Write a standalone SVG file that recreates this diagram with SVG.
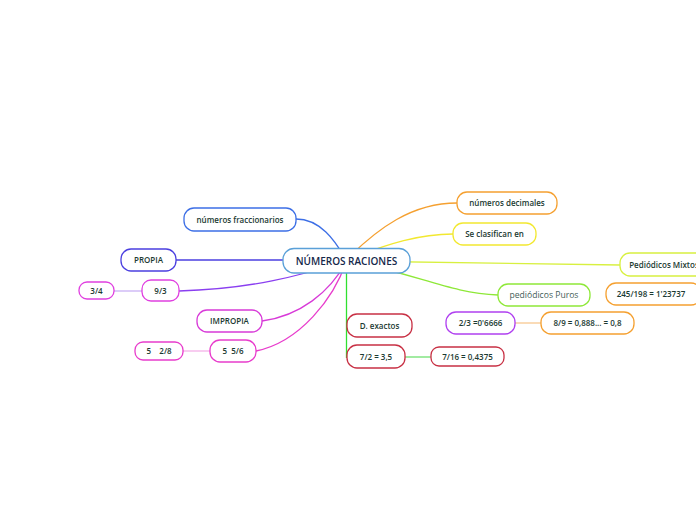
<svg xmlns="http://www.w3.org/2000/svg" width="696" height="520" viewBox="0 0 696 520">
<style>
.n{fill:#ffffff;stroke-width:1.3}
.t{font-family:"Open Sans","Noto Sans",sans-serif;font-size:8px;fill:#1b3a32;text-anchor:middle;font-weight:600}
.c{fill:none;stroke-width:1.3}
</style>
<rect width="696" height="520" fill="#ffffff"/>
<g id="connectors">
<path class="c" stroke="#3d6fe6" d="M296,219 C320,219 335,240 346,260"/>
<path class="c" stroke="#4b3fe0" d="M176,260 L346,260"/>
<path class="c" stroke="#8a3ff0" d="M179,291 C250,289 300,276 346,261"/>
<path class="c" stroke="#c9b0f5" d="M114,291 L142,291"/>
<path class="c" stroke="#d83ad8" d="M262,321 C300,316 330,292 346,262"/>
<path class="c" stroke="#e83ccc" d="M256,351 C300,342 334,298 346,262"/>
<path class="c" stroke="#f5b0e8" d="M183,351 L210,351"/>
<path class="c" stroke="#30e030" d="M346.5,262 L346.5,358"/>
<path class="c" stroke="#70e070" d="M405,357 L431,357"/>
<path class="c" stroke="#f5a030" d="M457,203 C412,203 378,228 346,260"/>
<path class="c" stroke="#f2e830" d="M453,234 C420,234 390,243 346,260"/>
<path class="c" stroke="#d8f040" d="M620,265 L346,261"/>
<path class="c" stroke="#8ee838" d="M498,295 C450,293 420,275 346,260"/>
<path class="c" stroke="#f8c890" d="M515,323 L541,323"/>
</g>
<g id="central"><rect class="n" x="283" y="248.5" width="127" height="24.5" rx="11" stroke="#5aa0d8" fill="#fbfdff"/><text class="t" x="346.5" y="264.5" style="font-size:10px;fill:#14284a">NÚMEROS RACIONES</text></g>
<g id="fraccionarios"><rect class="n" x="184" y="208" width="112" height="23" rx="10" stroke="#3d6fe6"/><text class="t" x="240" y="222.5">números fraccionarios</text></g>
<g id="propia"><rect class="n" x="121" y="249" width="55" height="22" rx="10" stroke="#4b3fe0"/><text class="t" x="148.5" y="263">PROPIA</text></g>
<g id="n93"><rect class="n" x="142" y="280" width="37" height="21" rx="9" stroke="#e040e0"/><text class="t" x="160.5" y="293.5">9/3</text></g>
<g id="n34"><rect class="n" x="79" y="282" width="35" height="17" rx="8" stroke="#e040e0"/><text class="t" x="96.5" y="293.5">3/4</text></g>
<g id="impropia"><rect class="n" x="197" y="310" width="65" height="22" rx="10" stroke="#d83ad8"/><text class="t" x="229.5" y="324">IMPROPIA</text></g>
<g id="n556"><rect class="n" x="210" y="340" width="46" height="22" rx="10" stroke="#e83ccc"/><text class="t" x="233" y="354" xml:space="preserve">5  5/6</text></g>
<g id="n528"><rect class="n" x="135" y="342" width="48" height="18" rx="8" stroke="#e83ccc"/><text class="t" x="159" y="354" xml:space="preserve">5    2/8</text></g>
<g id="dexactos"><rect class="n" x="347" y="314" width="65" height="23" rx="10" stroke="#c83044"/><text class="t" x="379.5" y="328.5">D. exactos</text></g>
<g id="n72"><rect class="n" x="347" y="345" width="58" height="23" rx="10" stroke="#c83044"/><text class="t" x="376" y="359.5">7/2 = 3,5</text></g>
<g id="n716"><rect class="n" x="431" y="347" width="73" height="19" rx="8" stroke="#c83044"/><text class="t" x="467.5" y="359.5">7/16 = 0,4375</text></g>
<g id="n23"><rect class="n" x="446" y="312" width="69" height="22" rx="10" stroke="#b040f0"/><text class="t" x="480.5" y="326">2/3 =0'6666</text></g>
<g id="n89"><rect class="n" x="541" y="312" width="93" height="22" rx="10" stroke="#f5a030"/><text class="t" x="587.5" y="326">8/9 = 0,888... = 0,8</text></g>
<g id="decimales"><rect class="n" x="457" y="192" width="100" height="22" rx="10" stroke="#f5a030"/><text class="t" x="507" y="206">números decimales</text></g>
<g id="clasifican"><rect class="n" x="453" y="223" width="83" height="22" rx="10" stroke="#f2e830"/><text class="t" x="494.5" y="237">Se clasifican en</text></g>
<g id="mixtos"><rect class="n" x="620" y="253" width="90" height="23" rx="10" stroke="#d8f040"/><text class="t" x="664" y="267.5">Pediódicos Mixtos</text></g>
<g id="puros"><rect class="n" x="498" y="284" width="92" height="22" rx="10" stroke="#8ee838"/><text class="t" x="544" y="298" style="fill:#44605a;font-weight:400;font-size:8.6px">pediódicos Puros</text></g>
<g id="n245"><rect class="n" x="606" y="283" width="95" height="22" rx="10" stroke="#f5a030"/><text class="t" x="651" y="297">245/198 = 1'23737</text></g>
</svg>
